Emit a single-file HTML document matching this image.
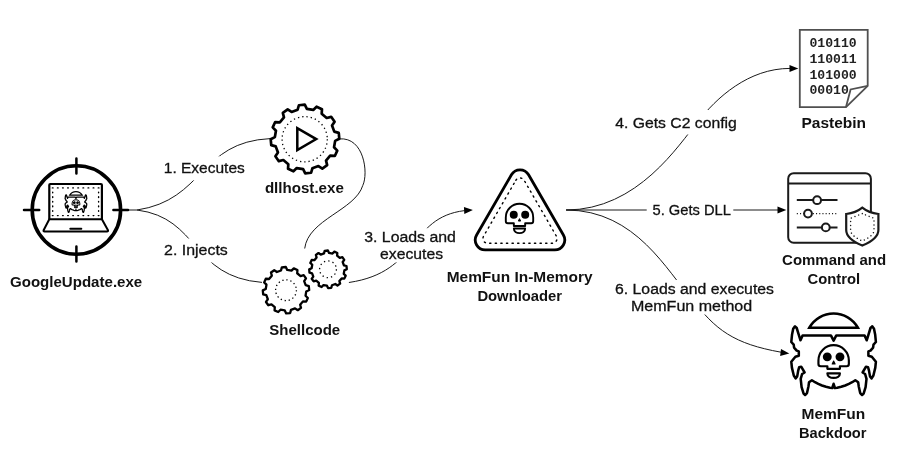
<!DOCTYPE html>
<html lang="en"><head><meta charset="utf-8"><title>MemFun infection chain</title>
<style>html,body{margin:0;padding:0;background:#fff}body{width:900px;height:470px;overflow:hidden}svg{display:block;will-change:transform}text{font-family:"Liberation Sans",Arial,sans-serif;fill:#111}</style>
</head><body>
<svg width="900" height="470" viewBox="0 0 900 470">
<rect width="900" height="470" fill="#fff"/>
<defs>
<g id="skull" fill="none" stroke="#000" stroke-linejoin="round">
<path d="M-13.7,0A13.7,13.7 0 0 1 13.7,0V3.75Q13.7,5.75 11.7,5.75H5.65V8.5H-5.65V5.75H-11.7Q-13.7,5.75 -13.7,3.75Z"/>
<path d="M-5.65,11.1H5.65C5.65,14.01 3,15.65 0,15.65C-3,15.65 -5.65,14.01 -5.65,11.1Z"/>
<circle cx="-5.75" cy="-2.6" r="3.05" fill="#000"/><circle cx="5.7" cy="-2.6" r="3.05" fill="#000"/>
<path d="M0,1.2L1.15,3.6H-1.15Z" fill="#000" stroke-width="1"/>
</g><g id="skull2" fill="none" stroke="#000" stroke-linejoin="round">
<path d="M-13.7,0A13.7,13.7 0 0 1 13.7,0V3.3Q13.7,5.3 11.7,5.3H5.65V7.6H-5.65V5.3H-11.7Q-13.7,5.3 -13.7,3.3Z"/>
<path d="M-5.65,11.7H5.65C5.65,14.32 3,15.8 0,15.8C-3,15.8 -5.65,14.32 -5.65,11.7Z"/>
<circle cx="-5.75" cy="-3.2" r="3.05" fill="#000"/><circle cx="5.7" cy="-3.2" r="3.05" fill="#000"/>
<path d="M0,0.6L1.3,3.3H-1.3Z" fill="#000" stroke-width="1"/>
</g>
<g id="bug" fill="none" stroke="#000" stroke-linejoin="round"><path d="M833.6,340.6 L830.9,335.4 L802.6,335.4 L800.5,340.3 L798.8,334.8 L796.7,328 L795,326.3 L793.2,328.8 L792,334.8 L791.3,342 L793.7,344.6 L794.1,347.6 L796.7,350.6 L798.8,351.4 L798.8,355.7 L795.4,356.7 L791.3,361.7 L791.9,367.6 L793.8,375.5 L795.6,378.4 L797.2,376.4 L798.2,370.6 L799.2,367.2 L801.2,366.7 L804.6,372.5 L802.1,374 L800.7,378.9 L801.6,387.2 L803.6,393.6 L805.1,395 L807,393.1 L808.5,386.2 L809,382.3 L811.9,380.2 L815,382.2 L818.3,383.9 L822,385.5 L826,386.8 L830,387.7 L832.3,388 L833.6,383.8 L834.9,388 L837.2,387.7 L841.2,386.8 L845.2,385.5 L848.9,383.9 L852.2,382.2 L855.3,380.2 L858.2,382.3 L858.7,386.2 L860.2,393.1 L862.1,395 L863.6,393.6 L865.6,387.2 L866.5,378.9 L865.1,374 L862.6,372.5 L866,366.7 L868,367.2 L869,370.6 L870,376.4 L871.6,378.4 L873.4,375.5 L875.3,367.6 L875.9,361.7 L871.8,356.7 L868.4,355.7 L868.4,351.4 L870.5,350.6 L873.1,347.6 L873.5,344.6 L875.9,342 L875.2,334.8 L874,328.8 L872.2,326.3 L870.5,328 L868.4,334.8 L866.7,340.3 L864.6,335.4 L836.3,335.4Z"/><path d="M809.3,327.7H857.9A27.9,27.9 0 0 0 809.3,327.7Z" stroke-linejoin="miter"/></g>
</defs>
<g fill="none" stroke="#1a1a1a" stroke-width="1">
<path d="M124,210 H137 C204.5,200 199.1,141.9 270.2,138.6"/>
<path d="M137,210 C199.9,218 190.7,276.7 262,282.4"/>
<path d="M339.3,138.9 C364.3,136.8 368.5,173.5 362.8,185.4 C355.3,210.3 308.1,219.4 304.7,248.5"/>
<path d="M348.9,282.5 C420.4,272 408,217.6 464.5,210.6"/>
<path d="M566.1,210 C638.3,210 679.1,143.9 697.5,122.3 C716.3,97.7 748.6,68.4 790,68.4"/>
<path d="M566.1,210 H778"/>
<path d="M566.1,210 C636.8,210 668,273.6 691,297.5 C715.4,330.5 734.3,343.8 781,352.2"/>
</g>
<g fill="#000">
<path d="M472.9,210 L464.3,213.96 L463.93,206.97 Z"/>
<path d="M798.3,68.4 L789.5,71.9 L789.5,64.9 Z"/>
<path d="M786.3,210 L777.5,213.5 L777.5,206.5 Z"/>
<path d="M789.3,353.5 L780.14,355.9 L780.99,348.95 Z"/>
</g>
<g fill="#fff">
<rect x="162" y="156.3" width="85" height="24.1"/>
<rect x="162" y="238.5" width="68" height="24"/>
<rect x="362" y="228.2" width="95" height="34.2"/>
<rect x="613" y="110" width="126" height="24.5"/>
<rect x="646.7" y="198" width="86.6" height="24"/>
<rect x="614" y="280" width="162" height="34.5"/>
</g>
<g fill="none" stroke="#000" stroke-linecap="butt">
<circle cx="76.4" cy="210" r="44.2" stroke-width="3.6"/>
<path d="M76.4,158.6V173.4M76.4,246.6V261.4M24,210H39.2M113.4,210H128" stroke-width="2.5" stroke-linecap="round"/>
<path d="M49.3,219.3V185Q49.3,184 50.3,184H100.9Q101.9,184 101.9,185V219.3" stroke-width="2.2" stroke-linejoin="round"/>
<path d="M49.3,219.3H101.9L108,230.2Q108.4,231.4 107,231.4H44.5Q43.2,231.4 43.6,230.2Z" stroke-width="2" stroke-linejoin="round"/>
<path d="M70.3,228.7H81.3" stroke-width="2" stroke-linecap="round"/>
<path d="M52.35,187.9H99M52.35,215.6H99" stroke-width="1.4" stroke-linecap="round" stroke-dasharray="0.7 4.4"/>
<path d="M52.7,192.17V212M98.6,192.17V212" stroke-width="1.4" stroke-linecap="round" stroke-dasharray="0.7 3.92"/>
</g>
<use href="#bug" transform="translate(-137.45,111.29) scale(0.256)" stroke-width="5"/>
<use href="#skull2" transform="translate(75.95,203.55) scale(0.283)" stroke-width="3.6"/>
<g fill="#fff" stroke="#000" stroke-linejoin="round">
<path d="M297.62,109.72 L298.9,105.25 L304.79,104.7 L306.87,108.86 L313.25,109.95 L316.59,106.72 L321.97,109.19 L321.69,113.83 L326.67,117.96 L331.18,116.84 L334.6,121.67 L332.04,125.55 L334.28,131.62 L338.75,132.9 L339.3,138.79 L335.14,140.87 L334.05,147.25 L337.28,150.59 L334.81,155.97 L330.17,155.69 L326.04,160.67 L327.16,165.18 L322.33,168.6 L318.45,166.04 L312.38,168.28 L311.1,172.75 L305.21,173.3 L303.13,169.14 L296.75,168.05 L293.41,171.28 L288.03,168.81 L288.31,164.17 L283.33,160.04 L278.82,161.16 L275.4,156.33 L277.96,152.45 L275.72,146.38 L271.25,145.1 L270.7,139.21 L274.86,137.13 L275.95,130.75 L272.72,127.41 L275.19,122.03 L279.83,122.31 L283.96,117.33 L282.84,112.82 L287.67,109.4 L291.55,111.96Z" stroke-width="2.7"/>
<circle cx="304.7" cy="139.2" r="22.6" fill="none" stroke-width="1.3" stroke-dasharray="1.3 3.003"/>
<path d="M297.3,128.1V150.1L316.2,139.1Z" stroke-width="2.5" stroke-linejoin="miter"/>
<path d="M281,270.52 L281.83,267.38 L285.82,267 L287.22,269.94 L291.51,270.66 L293.8,268.35 L297.44,270.02 L297.19,273.26 L300.54,276.03 L303.68,275.18 L306,278.44 L304.16,281.13 L305.68,285.2 L308.82,286.03 L309.2,290.02 L306.26,291.42 L305.54,295.71 L307.85,298 L306.18,301.64 L302.94,301.39 L300.17,304.74 L301.02,307.88 L297.76,310.2 L295.07,308.36 L291,309.88 L290.17,313.02 L286.18,313.4 L284.78,310.46 L280.49,309.74 L278.2,312.05 L274.56,310.38 L274.81,307.14 L271.46,304.37 L268.32,305.22 L266,301.96 L267.84,299.27 L266.32,295.2 L263.18,294.37 L262.8,290.38 L265.74,288.98 L266.46,284.69 L264.15,282.4 L265.82,278.76 L269.06,279.01 L271.83,275.66 L270.98,272.52 L274.24,270.2 L276.93,272.04Z" stroke-width="2.3"/>
<circle cx="286" cy="290.2" r="10.4" fill="none" stroke-width="1.3" stroke-dasharray="1.3 2.784"/>
<path d="M324.02,253.39 L324.69,250.79 L327.92,250.5 L329.04,252.93 L332.51,253.53 L334.38,251.62 L337.33,252.98 L337.09,255.65 L339.79,257.9 L342.37,257.18 L344.24,259.83 L342.7,262.02 L343.91,265.32 L346.51,265.99 L346.8,269.22 L344.37,270.34 L343.77,273.81 L345.68,275.68 L344.32,278.63 L341.65,278.39 L339.4,281.09 L340.12,283.67 L337.47,285.54 L335.28,284 L331.98,285.21 L331.31,287.81 L328.08,288.1 L326.96,285.67 L323.49,285.07 L321.62,286.98 L318.67,285.62 L318.91,282.95 L316.21,280.7 L313.63,281.42 L311.76,278.77 L313.3,276.58 L312.09,273.28 L309.49,272.61 L309.2,269.38 L311.63,268.26 L312.23,264.79 L310.32,262.92 L311.68,259.97 L314.35,260.21 L316.6,257.51 L315.88,254.93 L318.53,253.06 L320.72,254.6Z" stroke-width="2.3"/>
<circle cx="328" cy="269.3" r="8.4" fill="none" stroke-width="1.3" stroke-dasharray="1.3 3.098"/>
</g>
<path d="M511.43,174.75A9.9 9.9 0 0 1 528.57,174.75L563.39,235.05A9.9 9.9 0 0 1 554.81,249.9L485.19,249.9A9.9 9.9 0 0 1 476.61,235.05Z" fill="#fff" stroke="#000" stroke-width="2.8"/>
<path d="M515.84,180.3A4.8 4.8 0 0 1 524.16,180.3L556.37,236.1A4.8 4.8 0 0 1 552.22,243.3L487.78,243.3A4.8 4.8 0 0 1 483.63,236.1Z" fill="none" stroke="#000" stroke-width="1.4" stroke-linecap="round" stroke-dasharray="1.3 4.3"/>
<use href="#skull" transform="translate(519.5,217.45)" stroke-width="1.9"/>
<path d="M799.8,29.9H867.7V85.9L846,107.1H799.8Z" fill="#fff" stroke="#505050" stroke-width="1.8" stroke-linejoin="miter"/>
<path d="M867.7,85.9L850.6,89.4L846,107.1" fill="none" stroke="#505050" stroke-width="1.8" stroke-linejoin="miter"/>
<g font-family="Liberation Mono, monospace" font-weight="700" font-size="12.8" style="font-family:'Liberation Mono',monospace">
<text x="809.4" y="46.9" style="font-family:'Liberation Mono',monospace;fill:#222" textLength="47.3" lengthAdjust="spacingAndGlyphs">010110</text>
<text x="809.4" y="62.73" style="font-family:'Liberation Mono',monospace;fill:#222" textLength="47.3" lengthAdjust="spacingAndGlyphs">110011</text>
<text x="809.4" y="78.56" style="font-family:'Liberation Mono',monospace;fill:#222" textLength="47.3" lengthAdjust="spacingAndGlyphs">101000</text>
<text x="809.4" y="94.39" style="font-family:'Liberation Mono',monospace;fill:#222" textLength="39.4" lengthAdjust="spacingAndGlyphs">00010</text>
</g>
<g fill="none" stroke="#1a1a1a" stroke-width="2">
<rect x="788.2" y="173.2" width="82.7" height="69.5" rx="5.5" fill="#fff"/>
<path d="M788.2,183.6H870.9"/>
<path d="M796.8,200H837.5M796.8,227.4H837.5"/>
<path d="M796.8,213.6H837.5" stroke-width="1.1" stroke-dasharray="1.1 2.1"/>
<circle cx="817.1" cy="200.2" r="3.9" fill="#fff"/><circle cx="808" cy="213.6" r="3.9" fill="#fff"/><circle cx="825.8" cy="227.4" r="3.9" fill="#fff"/>
<path d="M862.3,207.7C858.5,210.8 852,213.4 846.2,214V230C846.2,238 855,242.5 862.3,245.6C869.6,242.5 878.4,238 878.4,230V214C872.6,213.4 866.1,210.8 862.3,207.7Z" fill="#fff" stroke-width="2.2" stroke-linejoin="miter"/>
<path d="M862.3,213.6L850.6,218.3V230.3C850.6,234.5 856,238 862.3,241C868.6,238 874,234.5 874,230.3V218.3Z" stroke-width="1.5" stroke-linecap="round" stroke-dasharray="0.01 3.93"/>
</g>
<use href="#bug" stroke-width="2.55"/>
<use href="#skull2" transform="translate(833.65,360.4) scale(1.11)" stroke-width="1.95"/>
<g id="labels">
<text x="76.1" y="287" text-anchor="middle" font-size="15.3" font-weight="700" textLength="132.22" lengthAdjust="spacingAndGlyphs">GoogleUpdate.exe</text>
<text x="304.35" y="193" text-anchor="middle" font-size="15.3" font-weight="700" textLength="78.92" lengthAdjust="spacingAndGlyphs">dllhost.exe</text>
<text x="304.75" y="335.4" text-anchor="middle" font-size="15.3" font-weight="700" textLength="70.95" lengthAdjust="spacingAndGlyphs">Shellcode</text>
<text x="519.6" y="282.2" text-anchor="middle" font-size="15.3" font-weight="700" textLength="145.81" lengthAdjust="spacingAndGlyphs">MemFun In-Memory</text>
<text x="519.75" y="300.9" text-anchor="middle" font-size="15.3" font-weight="700" textLength="84.73" lengthAdjust="spacingAndGlyphs">Downloader</text>
<text x="833.75" y="128.2" text-anchor="middle" font-size="15.3" font-weight="700" textLength="64.56" lengthAdjust="spacingAndGlyphs">Pastebin</text>
<text x="834.1" y="264.5" text-anchor="middle" font-size="15.3" font-weight="700" textLength="104.04" lengthAdjust="spacingAndGlyphs">Command and</text>
<text x="833.85" y="283.7" text-anchor="middle" font-size="15.3" font-weight="700" textLength="52.56" lengthAdjust="spacingAndGlyphs">Control</text>
<text x="833.35" y="418.5" text-anchor="middle" font-size="15.3" font-weight="700" textLength="63.75" lengthAdjust="spacingAndGlyphs">MemFun</text>
<text x="832.75" y="438" text-anchor="middle" font-size="15.3" font-weight="700" textLength="67.52" lengthAdjust="spacingAndGlyphs">Backdoor</text>
<text x="204.3" y="173.1" text-anchor="middle" font-size="15.3" stroke="#111" stroke-width="0.3" textLength="81.04" lengthAdjust="spacingAndGlyphs">1. Executes</text>
<text x="195.95" y="255.3" text-anchor="middle" font-size="15.3" stroke="#111" stroke-width="0.3" textLength="63.72" lengthAdjust="spacingAndGlyphs">2. Injects</text>
<text x="410.05" y="242" text-anchor="middle" font-size="15.3" stroke="#111" stroke-width="0.3" textLength="91.74" lengthAdjust="spacingAndGlyphs">3. Loads and</text>
<text x="411.55" y="259.1" text-anchor="middle" font-size="15.3" stroke="#111" stroke-width="0.3" textLength="62.93" lengthAdjust="spacingAndGlyphs">executes</text>
<text x="676" y="127.6" text-anchor="middle" font-size="15.3" stroke="#111" stroke-width="0.3" textLength="121.61" lengthAdjust="spacingAndGlyphs">4. Gets C2 config</text>
<text x="691.7" y="214.8" text-anchor="middle" font-size="15.3" stroke="#111" stroke-width="0.3" textLength="78.43" lengthAdjust="spacingAndGlyphs">5. Gets DLL</text>
<text x="694.5" y="294" text-anchor="middle" font-size="15.3" stroke="#111" stroke-width="0.3" textLength="159.01" lengthAdjust="spacingAndGlyphs">6. Loads and executes</text>
<text x="691.6" y="311" text-anchor="middle" font-size="15.3" stroke="#111" stroke-width="0.3" textLength="121.23" lengthAdjust="spacingAndGlyphs">MemFun method</text>
</g>
</svg>
</body></html>
